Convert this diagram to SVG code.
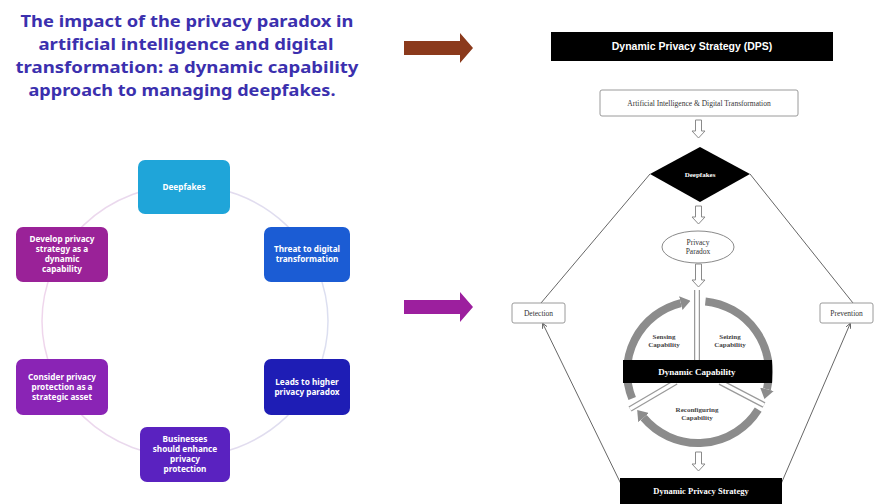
<svg xmlns="http://www.w3.org/2000/svg" width="875" height="504" viewBox="0 0 875 504">
<style>
.title{font-family:"Noto Sans","Open Sans",sans-serif;font-weight:700;font-size:16.5px;fill:#3b30ae;text-anchor:middle}
.nt{font-family:"Noto Sans","Liberation Sans",sans-serif;font-weight:700;font-size:8.2px;fill:#ffffff;text-anchor:middle}
.sr{font-family:"Liberation Serif","DejaVu Serif",serif;font-size:7.5px;fill:#333;text-anchor:middle}
.srb{font-family:"Liberation Serif","DejaVu Serif",serif;font-weight:700;font-size:7px;fill:#444;text-anchor:middle}
.wb{font-family:"Liberation Serif","DejaVu Serif",serif;font-weight:700;fill:#fff;text-anchor:middle}
.box{fill:#fff;stroke:#9a9a9a;stroke-width:1}
.ln{stroke:#555;stroke-width:0.9;fill:none}
.hol{fill:#fff;stroke:#8a8a8a;stroke-width:1}
.ring{fill:none;stroke:#8c8c8c;stroke-width:8}
.dbl{stroke:#9a9a9a;stroke-width:6;fill:none}
.dblw{stroke:#fff;stroke-width:3.5;fill:none}
</style>
<defs>
<linearGradient id="cg" x1="0" y1="0" x2="1" y2="0">
<stop offset="0" stop-color="#efd6ec"/><stop offset="1" stop-color="#dcdff0"/>
</linearGradient>
<marker id="rh" viewBox="0 0 10 14" refX="0" refY="7" markerWidth="10" markerHeight="14" markerUnits="userSpaceOnUse" orient="auto">
<path d="M0,0 L10,7 L0,14 z" fill="#8c8c8c"/>
</marker>
<marker id="sh" viewBox="0 0 6 6" refX="5" refY="3" markerWidth="5" markerHeight="5" markerUnits="userSpaceOnUse" orient="auto">
<path d="M0,0 L6,3 L0,6" fill="none" stroke="#555" stroke-width="1"/>
</marker>
</defs>
<rect width="875" height="504" fill="#fff"/>

<g id="title">
<text class="title" x="187" y="27" textLength="333" lengthAdjust="spacingAndGlyphs">The impact of the privacy paradox in</text>
<text class="title" x="186" y="50" textLength="295" lengthAdjust="spacingAndGlyphs">artificial intelligence and digital</text>
<text class="title" x="187" y="73" textLength="343" lengthAdjust="spacingAndGlyphs">transformation: a dynamic capability</text>
<text class="title" x="182" y="96" textLength="307" lengthAdjust="spacingAndGlyphs">approach to managing deepfakes.</text>
</g>

<g id="connectors">
<ellipse cx="185" cy="321" rx="143" ry="136" fill="none" stroke="url(#cg)" stroke-width="1.5"/>
<path d="M404,41 h56 v-8 l13,15 l-13,15 v-8 h-56 z" fill="#8b3a1c"/>
<path d="M404,300 h56 v-8 l13,15 l-13,15 v-8 h-56 z" fill="#9c1f9e"/>
<line class="ln" x1="650" y1="174" x2="541" y2="303"/>
<line class="ln" x1="750" y1="174" x2="853" y2="303"/>
<line class="ln" x1="621" y1="484" x2="543" y2="324" marker-end="url(#sh)"/>
<line class="ln" x1="781" y1="484" x2="850" y2="324" marker-end="url(#sh)"/>
<path class="hol" d="M695.5,120 h6 v11 h3.5 l-6.5,7 l-6.5,-7 h3.5 z"/>
<path class="hol" d="M695.5,206 h6 v11 h3.5 l-6.5,7 l-6.5,-7 h3.5 z"/>
<path class="hol" d="M695.5,264 h6 v16 h3.5 l-6.5,7 l-6.5,-7 h3.5 z"/>
<path class="hol" d="M695.5,452 h6 v12 h3.5 l-6.5,7 l-6.5,-7 h3.5 z"/>
</g>

<g id="node-deepfakes"><rect x="138" y="160" width="92" height="54" rx="7" fill="#1fa5d9"/><text class="nt" x="184" y="190">Deepfakes</text></g>
<g id="node-threat"><rect x="264" y="227" width="86" height="55" rx="7" fill="#1b5cd4"/><text class="nt" x="307" y="252">Threat to digital</text><text class="nt" x="307" y="262">transformation</text></g>
<g id="node-leads"><rect x="264" y="359" width="86" height="56" rx="7" fill="#1e1db5"/><text class="nt" x="307" y="385">Leads to higher</text><text class="nt" x="307" y="395">privacy paradox</text></g>
<g id="node-businesses"><rect x="140" y="427" width="90" height="55" rx="7" fill="#5a22c0"/><text class="nt" x="185" y="442">Businesses</text><text class="nt" x="185" y="452">should enhance</text><text class="nt" x="185" y="462">privacy</text><text class="nt" x="185" y="472">protection</text></g>
<g id="node-consider"><rect x="16" y="359" width="92" height="56" rx="7" fill="#8a24b5"/><text class="nt" x="62" y="380">Consider privacy</text><text class="nt" x="62" y="390">protection as a</text><text class="nt" x="62" y="400">strategic asset</text></g>
<g id="node-develop"><rect x="16" y="227" width="92" height="55" rx="7" fill="#9a2298"/><text class="nt" x="62" y="242">Develop privacy</text><text class="nt" x="62" y="252">strategy as a</text><text class="nt" x="62" y="262">dynamic</text><text class="nt" x="62" y="272">capability</text></g>

<g id="node-dps-title"><rect x="551" y="32" width="282" height="29" fill="#000"/><text x="692" y="50" font-family="Liberation Sans, Arial, sans-serif" font-weight="700" font-size="10.5" fill="#fff" text-anchor="middle">Dynamic Privacy Strategy (DPS)</text></g>
<g id="node-ai"><rect class="box" x="600" y="90" width="198" height="26" rx="2"/><text class="sr" x="699" y="106">Artificial Intelligence &amp; Digital Transformation</text></g>
<g id="node-deepfakes-r"><path d="M700,147 L750,174 L700,202 L650,174 z" fill="#000"/><text class="wb" x="700" y="177" font-size="7">Deepfakes</text></g>
<g id="node-paradox"><ellipse cx="698" cy="247" rx="36" ry="16" fill="#fff" stroke="#8a8a8a" stroke-width="1"/><text class="sr" x="698" y="245" font-size="7">Privacy</text><text class="sr" x="698" y="254" font-size="7">Paradox</text></g>
<g id="node-detection"><rect class="box" x="512" y="303" width="53" height="20" rx="2"/><text class="sr" x="538.5" y="316" font-size="7">Detection</text></g>
<g id="node-prevention"><rect class="box" x="820" y="303" width="53" height="20" rx="2"/><text class="sr" x="846.5" y="316" font-size="7">Prevention</text></g>

<g id="node-dynamic-capability">
<path class="ring" d="M632.2,398.6 A71,71 0 0 1 680.8,303.1" marker-end="url(#rh)"/>
<path class="ring" d="M705.4,301.4 A71,71 0 0 1 766.9,389.2" marker-end="url(#rh)"/>
<path class="ring" d="M758.2,409.6 A71,71 0 0 1 643.6,417.6" marker-end="url(#rh)"/>
<line class="dbl" x1="697" y1="290" x2="697" y2="362"/>
<line class="dblw" x1="697" y1="290" x2="697" y2="362"/>
<line class="dbl" x1="676" y1="382" x2="630" y2="409"/>
<line class="dblw" x1="676" y1="382" x2="630" y2="409"/>
<line class="dbl" x1="720" y1="382" x2="764" y2="405"/>
<line class="dblw" x1="720" y1="382" x2="764" y2="405"/>
<rect x="623" y="360" width="149" height="23" fill="#000"/>
<text class="wb" x="697" y="375" font-size="9">Dynamic Capability</text>
<text class="srb" x="664" y="339">Sensing</text><text class="srb" x="664" y="347">Capability</text>
<text class="srb" x="730" y="339">Seizing</text><text class="srb" x="730" y="347">Capability</text>
<text class="srb" x="697" y="412">Reconfiguring</text><text class="srb" x="697" y="420">Capability</text>
</g>
<g id="node-dps-bottom"><rect x="620" y="478" width="162" height="26" fill="#000"/><text class="wb" x="701" y="494" font-size="8.5">Dynamic Privacy Strategy</text></g>
</svg>
